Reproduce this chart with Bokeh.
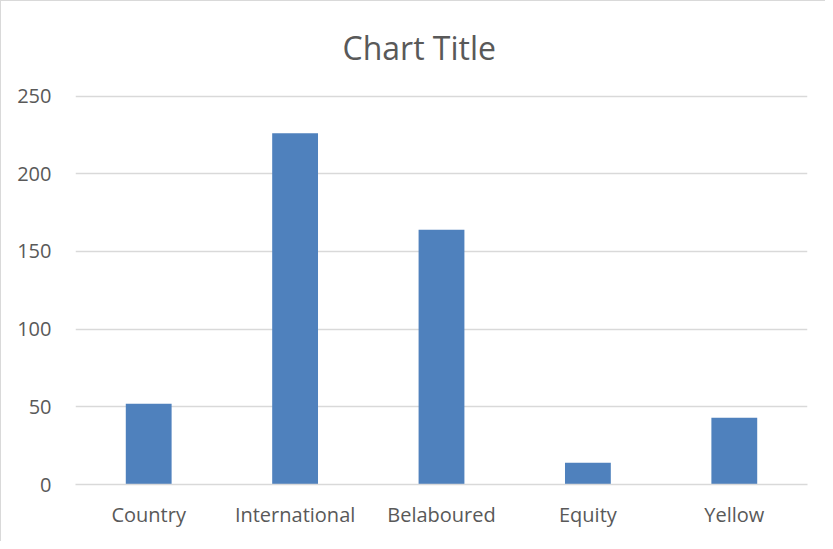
from bokeh.plotting import figure
from bokeh.models import Range1d, FixedTicker
from bokeh.embed import file_html
from bokeh.resources import INLINE

title_text = "Chart Title"
categories = ["Country", "International", "Belaboured", "Equity", "Yellow"]
values = [52, 226, 164, 14, 43]
y_ticks = [0, 50, 100, 150, 200, 250]

FONT = "Open Sans"
TXT = "#595959"
GRID = "#d9d9d9"

p = figure(x_range=categories, y_range=Range1d(0, 251), width=825, height=541,
           output_backend="svg", toolbar_location=None,
           min_border_left=74, min_border_right=19, min_border_top=92, min_border_bottom=58,
           title=title_text,
           styles={"border-top": "1px solid #d9d9d9", "border-left": "1px solid #d9d9d9"})

p.vbar(x=categories, top=values, width=0.313, fill_color="#4F81BD", line_color=None)

p.title.align = "left"
p.title.vertical_align = "top"
p.title.offset = 267
p.title.text_font = FONT
p.title.text_font_size = "32px"
p.title.text_font_style = "normal"
p.title.text_color = TXT
p.title.standoff = 48

p.outline_line_color = None
p.xgrid.grid_line_color = None
p.ygrid.grid_line_color = GRID
p.ygrid.grid_line_width = 1.3
p.yaxis.ticker = FixedTicker(ticks=y_ticks)

p.yaxis.axis_line_color = None
p.yaxis.major_tick_line_color = None
p.yaxis.minor_tick_line_color = None
p.yaxis.major_tick_out = 0
p.yaxis.major_label_standoff = 24
p.yaxis.major_label_text_font = FONT
p.yaxis.major_label_text_font_size = "20px"
p.yaxis.major_label_text_color = TXT

p.xaxis.axis_line_color = GRID
p.xaxis.axis_line_width = 1.5
p.xaxis.major_tick_line_color = None
p.xaxis.minor_tick_line_color = None
p.xaxis.major_tick_out = 0
p.xaxis.major_label_standoff = 16
p.xaxis.major_label_text_font = FONT
p.xaxis.major_label_text_font_size = "20px"
p.xaxis.major_label_text_color = TXT

open("out.html", "w").write(file_html(p, INLINE))
